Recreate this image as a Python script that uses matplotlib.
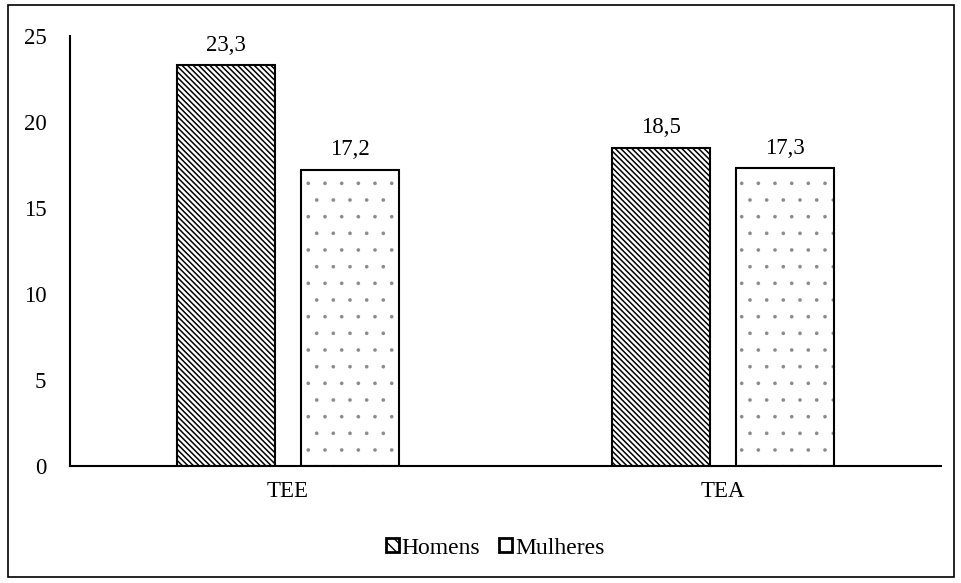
import matplotlib
matplotlib.use("Agg")
import matplotlib.pyplot as plt
from matplotlib.patches import Rectangle, Patch
import numpy as np

categories = ["TEE", "TEA"]
series_names = ["Homens", "Mulheres"]
homens = [23.3, 18.5]
mulheres = [17.2, 17.3]
yticks = [0, 5, 10, 15, 20, 25]

plt.rcParams['font.family'] = ['Liberation Serif', 'DejaVu Serif']
FS = 16.5

fig = plt.figure(figsize=(9.61, 5.83), dpi=100)
ax = fig.add_axes([70/961, 1 - 466/583, (941-70)/961, (466-36)/583])

x = np.arange(len(categories))
w = 0.225
off = 0.142
b1 = ax.bar(x - off, homens, w, color='white', edgecolor='black', linewidth=1.5,
            hatch='\\' * 6)
for r in b1:
    if hasattr(r, 'set_hatch_linewidth'):
        r.set_hatch_linewidth(1.1)
# dotted fill (lighter dots) then black outline
b2f = ax.bar(x + off, mulheres, w, color='white', edgecolor='#8a8a8a', linewidth=0,
             hatch='.')
for r in b2f:
    if hasattr(r, 'set_hatch_linewidth'):
        r.set_hatch_linewidth(0.2)
b2 = ax.bar(x + off, mulheres, w, fill=False, edgecolor='black', linewidth=1.5)

for bars, vals in ((b1, homens), (b2, mulheres)):
    for r, v in zip(bars, vals):
        ax.annotate(f"{v:.1f}".replace('.', ','), (r.get_x() + r.get_width()/2, v),
                    xytext=(0, 7), textcoords='offset points',
                    ha='center', va='bottom', fontsize=FS)

ax.set_xlim(-0.5, 1.5)
ax.set_ylim(0, 25)
ax.set_yticks(yticks)
ax.set_xticks(x)
ax.set_xticklabels(categories)
ax.tick_params(axis='both', length=0, labelsize=FS)
ax.tick_params(axis='y', pad=17)
ax.tick_params(axis='x', pad=11)
for s in ('top', 'right'):
    ax.spines[s].set_visible(False)
ax.spines['left'].set_linewidth(1.5)
ax.spines['bottom'].set_linewidth(1.5)

handles = [Patch(facecolor='white', edgecolor='black', hatch='\\\\\\', linewidth=2.0),
           Patch(facecolor='white', edgecolor='black', linewidth=2.0)]
leg = fig.legend(handles, series_names, loc='center', bbox_to_anchor=(495/961, 1 - 548/583),
                 ncol=2, frameon=False, fontsize=FS + 0.5, handlelength=0.55,
                 handleheight=0.55, handletextpad=0.12, columnspacing=0.8)

fig.patches.append(Rectangle((8/961, 6/583), 946/961, 572/583, transform=fig.transFigure,
                             fill=False, edgecolor='black', linewidth=1.2))
fig.savefig("out.png", dpi=100)
